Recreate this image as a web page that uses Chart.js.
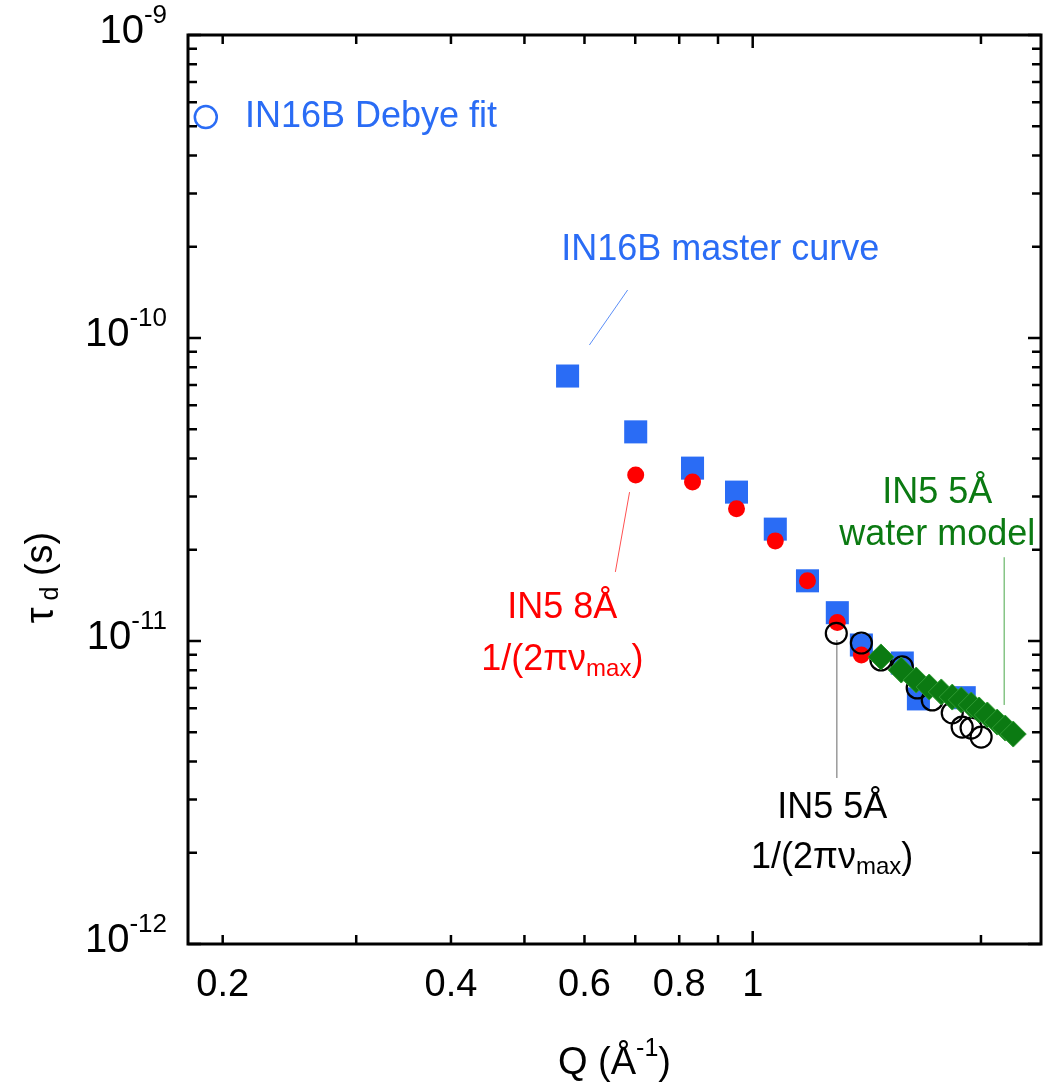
<!DOCTYPE html>
<html>
<head>
<meta charset="utf-8">
<script src="https://cdn.jsdelivr.net/npm/chart.js@4"></script>
<style>
  html, body { margin: 0; padding: 0; background: #fff; }
  canvas { display: block; }
</style>
</head>
<body>
<canvas id="tauChart" width="1047" height="1092"></canvas>
<script>
const FONT = '"Liberation Sans", Arial, Helvetica, sans-serif'
const BLUE = '#2a6cf5'
const RED = '#ff0000'
const GREEN = '#0b7a12'

// IN16B Debye fit (legend marker)
const debyeQ = [0.19]
const debyeTau = [5.36e-10]

// IN16B master curve
const masterQ = [0.570, 0.701, 0.833, 0.952, 1.071, 1.181, 1.293, 1.391, 1.575, 1.654, 1.901]
const masterTau = [7.49e-11, 4.90e-11, 3.72e-11, 3.10e-11, 2.34e-11, 1.58e-11, 1.24e-11, 9.70e-12, 8.46e-12, 6.44e-12, 6.5e-12]

// IN5 8Å 1/(2πν_max)
const in5_8Q = [0.701, 0.833, 0.952, 1.071, 1.181, 1.293, 1.391]
const in5_8Tau = [3.53e-11, 3.35e-11, 2.73e-11, 2.14e-11, 1.58e-11, 1.15e-11, 8.99e-12]

// IN5 5Å 1/(2πν_max)
const in5_5Q = [1.289, 1.391, 1.476, 1.575, 1.648, 1.725, 1.833, 1.889, 1.941, 2.001]
const in5_5Tau = [1.06e-11, 9.85e-12, 8.66e-12, 8.21e-12, 7.00e-12, 6.39e-12, 5.79e-12, 5.20e-12, 5.16e-12, 4.82e-12]

// IN5 5Å water model
const waterQ = [1.476, 1.570, 1.643, 1.709, 1.773, 1.833, 1.884, 1.942, 1.989, 2.039, 2.101, 2.153, 2.206]
const waterTau = [8.86e-12, 8.02e-12, 7.43e-12, 7.05e-12, 6.79e-12, 6.53e-12, 6.39e-12, 6.15e-12, 5.92e-12, 5.70e-12, 5.40e-12, 5.16e-12, 4.93e-12]

// axes
const xMinorTicks = [0.2, 0.3, 0.4, 0.5, 0.6, 0.7, 0.8, 0.9, 2]
const xMajorTicks = [1]
const xLabelValues = [0.2, 0.4, 0.6, 0.8, 1]
const xLabels = ['0.2', '0.4', '0.6', '0.8', '1']
const yExponents = [-12, -11, -10, -9]

const zip = (qs, ts) => qs.map((q, i) => ({ x: q, y: ts[i] }))

// annotation text, anchored in data coordinates
const notes = [
    { q: 0.214, tau: 5.36e-10, align: 'left', color: BLUE, runs: [['IN16B Debye fit', 36, 0]] },
    { q: 0.906, tau: 1.95e-10, align: 'center', color: BLUE, runs: [['IN16B master curve', 36, 0]] },
    { q: 0.561, tau: 1.285e-11, align: 'center', color: RED, runs: [['IN5 8Å', 36, 0]] },
    { q: 0.561, tau: 8.66e-12, align: 'center', color: RED, runs: [['1/(2πν', 36, 0], ['max', 24, 9], [')', 36, 0]] },
    { q: 1.273, tau: 2.81e-12, align: 'center', color: '#000', runs: [['IN5 5Å', 36, 0]] },
    { q: 1.273, tau: 1.92e-12, align: 'center', color: '#000', runs: [['1/(2πν', 36, 0], ['max', 24, 9], [')', 36, 0]] },
    { q: 1.751, tau: 3.08e-11, align: 'center', color: GREEN, runs: [['IN5 5Å', 36, 0]] },
    { q: 1.751, tau: 2.24e-11, align: 'center', color: GREEN, runs: [['water model', 36, 0]] }
]

const leaders = [
    { from: [0.684, 1.44e-10], to: [0.609, 9.48e-11], color: '#5b8ef7', width: 1 },
    { from: [0.688, 3.10e-11], to: [0.659, 1.69e-11], color: '#ff5050', width: 1 },
    { from: [1.291, 1.008e-11], to: [1.291, 3.53e-12], color: '#9a9a9a', width: 1.5 },
    { from: [2.146, 1.89e-11], to: [2.146, 6.15e-12], color: '#4aa84a', width: 1 }
]

function drawRuns (ctx, runs, x, y, align, color) {
    ctx.fillStyle = color
    ctx.textBaseline = 'middle'
    ctx.textAlign = 'left'
    let total = 0
    runs.forEach(([t, size]) => {
        ctx.font = `${size}px ${FONT}`
        total += ctx.measureText(t).width
    })
    let cx = align === 'center' ? x - total / 2 : align === 'right' ? x - total : x
    runs.forEach(([t, size, dy]) => {
        ctx.font = `${size}px ${FONT}`
        ctx.fillText(t, cx, y + dy)
        cx += ctx.measureText(t).width
    })
}

const framePlugin = {
    id: 'frame',
    beforeDatasetsDraw (chart) {
        const ctx = chart.ctx
        const xs = chart.scales.x
        const ys = chart.scales.y
        ctx.save()
        leaders.forEach(l => {
            ctx.strokeStyle = l.color
            ctx.lineWidth = l.width
            ctx.beginPath()
            ctx.moveTo(xs.getPixelForValue(l.from[0]), ys.getPixelForValue(l.from[1]))
            ctx.lineTo(xs.getPixelForValue(l.to[0]), ys.getPixelForValue(l.to[1]))
            ctx.stroke()
        })
        ctx.restore()
    },
    afterDatasetsDraw (chart) {
        const ctx = chart.ctx
        const { left, right, top, bottom } = chart.chartArea
        const xs = chart.scales.x
        const ys = chart.scales.y
        ctx.save()
        ctx.strokeStyle = '#000'
        ctx.lineCap = 'butt'

        // ticks, pointing inward on all four sides
        ctx.lineWidth = 2.5
        const xTick = (v, len) => {
            const px = xs.getPixelForValue(v)
            ctx.beginPath()
            ctx.moveTo(px, bottom); ctx.lineTo(px, bottom - len)
            ctx.moveTo(px, top); ctx.lineTo(px, top + len)
            ctx.stroke()
        }
        const yTick = (v, len) => {
            const py = ys.getPixelForValue(v)
            ctx.beginPath()
            ctx.moveTo(left, py); ctx.lineTo(left + len, py)
            ctx.moveTo(right, py); ctx.lineTo(right - len, py)
            ctx.stroke()
        }
        xMinorTicks.forEach(v => xTick(v, 9))
        xMajorTicks.forEach(v => xTick(v, 13))
        yExponents.forEach(e => {
            yTick(Math.pow(10, e), 13)
            if (e < -9) {
                for (let m = 2; m <= 9; m++) yTick(m * Math.pow(10, e), 9)
            }
        })

        // frame
        ctx.lineWidth = 3
        ctx.strokeRect(left, top, right - left, bottom - top)

        // tick labels
        xLabelValues.forEach((v, i) => {
            drawRuns(ctx, [[xLabels[i], 38, 0]], xs.getPixelForValue(v), bottom + 42, 'center', '#000')
        })
        yExponents.forEach(e => {
            drawRuns(ctx, [['10', 40, 0], [String(e), 26, -16]], left - 21, ys.getPixelForValue(Math.pow(10, e)) - 3, 'right', '#000')
        })

        // axis titles
        drawRuns(ctx, [['Q (Å', 38, 0], ['-1', 25, -15], [')', 38, 0]], (left + right) / 2, bottom + 120, 'center', '#000')
        ctx.translate(42, (top + bottom) / 2 + 88)
        ctx.rotate(-Math.PI / 2)
        drawRuns(ctx, [['τ', 40, 0], [' d', 25, 9], [' (s)', 38, 0]], 0, 0, 'center', '#000')
        ctx.setTransform(1, 0, 0, 1, 0, 0)

        // annotations
        notes.forEach(n => {
            drawRuns(ctx, n.runs, xs.getPixelForValue(n.q), ys.getPixelForValue(n.tau), n.align, n.color)
        })
        ctx.restore()
    }
}

new Chart(document.getElementById('tauChart').getContext('2d'), {
    type: 'scatter',
    data: {
        datasets: [
            {
                label: 'IN5 5Å water model',
                data: zip(waterQ, waterTau),
                pointStyle: 'rect',
                rotation: 45,
                pointRadius: 13,
                backgroundColor: GREEN,
                borderColor: '#2f9a33',
                borderWidth: 1
            },
            {
                label: 'IN5 5Å 1/(2πν_max)',
                data: zip(in5_5Q, in5_5Tau),
                pointStyle: 'circle',
                pointRadius: 10.5,
                backgroundColor: 'rgba(255,255,255,0)',
                borderColor: '#000',
                borderWidth: 2.2
            },
            {
                label: 'IN5 8Å 1/(2πν_max)',
                data: zip(in5_8Q, in5_8Tau),
                pointStyle: 'circle',
                pointRadius: 8.5,
                backgroundColor: RED,
                borderColor: RED,
                borderWidth: 0
            },
            {
                label: 'IN16B master curve',
                data: zip(masterQ, masterTau),
                pointStyle: 'rect',
                pointRadius: 16.3,
                backgroundColor: BLUE,
                borderColor: BLUE,
                borderWidth: 0
            },
            {
                label: 'IN16B Debye fit',
                data: zip(debyeQ, debyeTau),
                pointStyle: 'circle',
                pointRadius: 11,
                backgroundColor: 'rgba(255,255,255,0)',
                borderColor: BLUE,
                borderWidth: 2.5
            }
        ]
    },
    options: {
        responsive: false,
        animation: false,
        devicePixelRatio: 1,
        layout: { autoPadding: false, padding: { left: 188, right: 6, top: 35, bottom: 148 } },
        plugins: {
            legend: { display: false },
            tooltip: { enabled: false }
        },
        scales: {
            x: { type: 'logarithmic', display: false, min: 0.18, max: 2.4 },
            y: { type: 'logarithmic', display: false, min: 1e-12, max: 1e-9 }
        }
    },
    plugins: [framePlugin]
})
</script>
</body>
</html>
